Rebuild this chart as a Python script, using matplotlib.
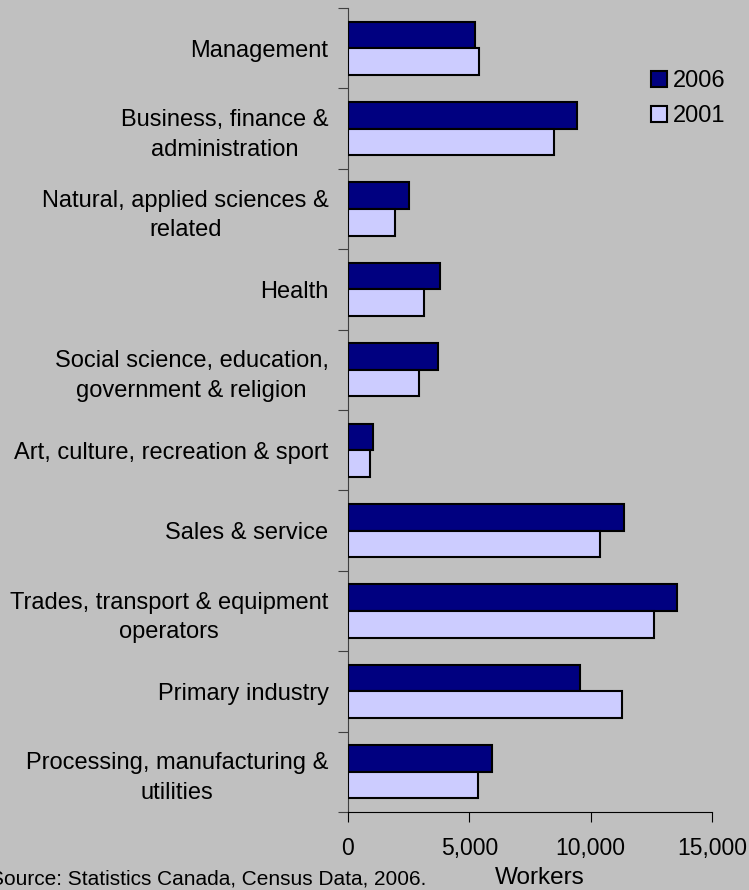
import numpy as np
import matplotlib
matplotlib.use("Agg")
import matplotlib.pyplot as plt

plt.rcParams['font.family'] = ['Liberation Sans', 'DejaVu Sans']

categories = [
    "Management",
    "Business, finance &\nadministration",
    "Natural, applied sciences &\nrelated",
    "Health",
    "Social science, education,\ngovernment & religion",
    "Art, culture, recreation & sport",
    "Sales & service",
    "Trades, transport & equipment\noperators",
    "Primary industry",
    "Processing, manufacturing &\nutilities",
]
workers_2006 = [5250, 9450, 2500, 3800, 3700, 1030, 11370, 13550, 9570, 5950]
workers_2001 = [5400, 8500, 1950, 3130, 2930, 910, 10380, 12610, 11290, 5340]
x_ticks = [0, 5000, 10000, 15000]

bg = "#c0c0c0"
fig = plt.figure(figsize=(7.49, 8.90), dpi=100, facecolor=bg)
ax = fig.add_axes([0.4646, 0.0876, 0.486, 0.9034], facecolor=bg)

n = len(categories)
pos = np.arange(n)
h = 0.33
ax.barh(pos - h / 2, workers_2006, height=h, color="#000080",
        edgecolor="black", linewidth=1.5, label="2006", zorder=3)
ax.barh(pos + h / 2, workers_2001, height=h, color="#ccccff",
        edgecolor="black", linewidth=1.5, label="2001", zorder=3)

ax.set_ylim(n - 0.5, -0.5)
ax.set_xlim(0, 15000)

# category labels sit between the boundary ticks
ax.set_yticks(np.arange(n + 1) - 0.5)
ax.set_yticklabels([])
ax.set_yticks(pos, minor=True)
ax.set_yticklabels(categories, minor=True, fontsize=17, ha="right",
                   multialignment="center", linespacing=1.45)
ax.tick_params(axis="y", which="minor", length=0, pad=14)
ax.tick_params(axis="y", which="major", length=7, color="#404040")

ax.set_xticks(x_ticks)
ax.set_xticklabels([f"{v:,}" for v in x_ticks], fontsize=16.5)
ax.tick_params(axis="x", length=7, pad=11)

for s in ["top", "right"]:
    ax.spines[s].set_visible(False)
ax.spines["left"].set_color("#404040")
ax.spines["bottom"].set_color("black")

ax.legend(loc="center left", bbox_to_anchor=(0.853, 0.889),
          bbox_transform=fig.transFigure, frameon=False,
          fontsize=17, handlelength=0.7, handleheight=0.7,
          handletextpad=0.25, labelspacing=0.55, borderpad=0)

fig.text(0.72, 0.0067, "Workers", fontsize=17.5, ha="center", va="baseline")
fig.text(-0.013, 0.0067, "Source: Statistics Canada, Census Data, 2006.",
         fontsize=15, ha="left", va="baseline")

fig.savefig("out.png", dpi=100, facecolor=bg)
